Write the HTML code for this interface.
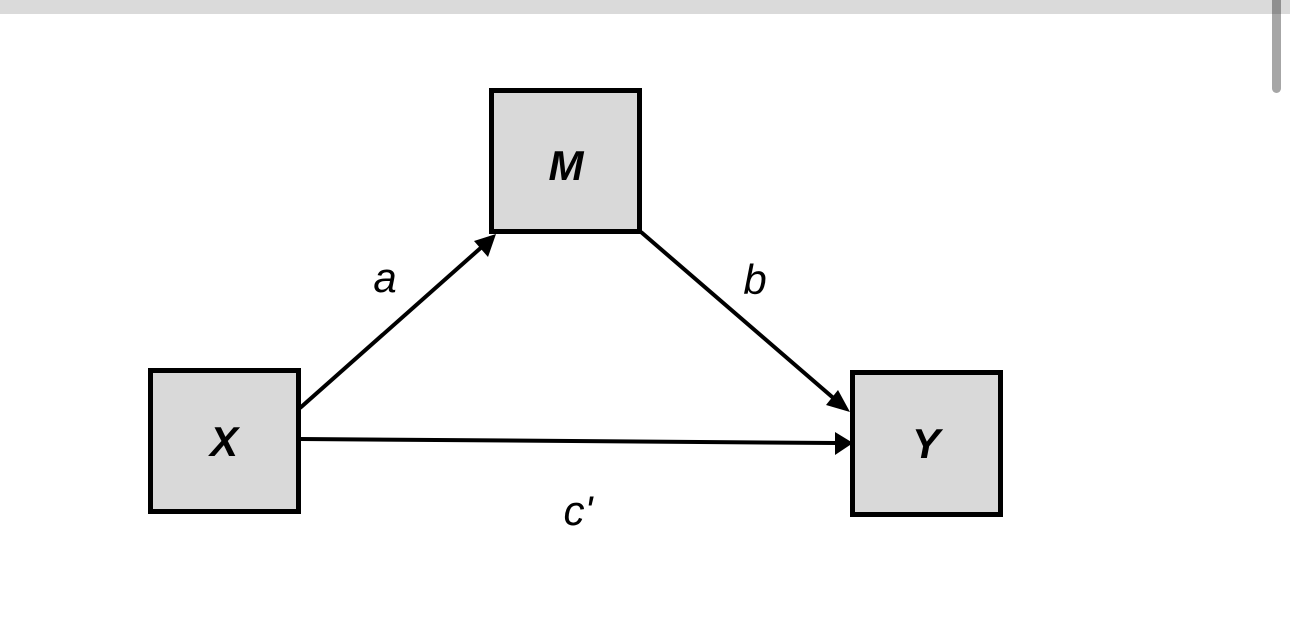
<!DOCTYPE html>
<html><head><style>
html,body{margin:0;padding:0;background:#fff;width:1290px;height:638px;overflow:hidden}
</style></head><body>
<svg width="1290" height="638" xmlns="http://www.w3.org/2000/svg" style="position:absolute;left:0;top:0">
<rect x="0" y="0" width="1290" height="14" fill="#dadada"/>
<rect x="1272" y="0" width="9" height="93" rx="4.5" fill="#a6a6a6"/>
<rect x="1272" y="0" width="9" height="14" fill="#8f8f8f"/>
<defs><marker id="ah" markerWidth="10" markerHeight="10" refX="9" refY="5" orient="auto" markerUnits="userSpaceOnUse" viewBox="0 0 10 10">
</marker></defs>
<g stroke="#000" stroke-width="5" fill="#d9d9d9">
<rect x="150.5" y="370.5" width="148" height="141"/>
<rect x="491.5" y="90.5" width="148" height="141"/>
<rect x="852.5" y="372.5" width="148" height="142"/>
</g>
<g stroke="#000" stroke-width="4">
<line x1="300" y1="408" x2="484" y2="245"/>
<line x1="641" y1="232" x2="838" y2="402"/>
<line x1="300" y1="439" x2="836" y2="443"/>
</g>
<polygon points="496,234 474,241 488,257" fill="#000"/>
<polygon points="850,412 838,390 826,405" fill="#000"/>
<polygon points="853,443 835,432 835,455" fill="#000"/>
<g font-family="Liberation Sans, sans-serif" font-style="italic" text-anchor="middle">
<text x="566" y="180" font-size="42" font-weight="bold">M</text>
<text x="224" y="456" font-size="42" font-weight="bold">X</text>
<text x="926" y="458" font-size="42" font-weight="bold">Y</text>
<text x="385" y="292" font-size="42">a</text>
<text x="755" y="294" font-size="42">b</text>
<text x="578" y="525" font-size="42">c'</text>
</g>
</svg>
</body></html>
